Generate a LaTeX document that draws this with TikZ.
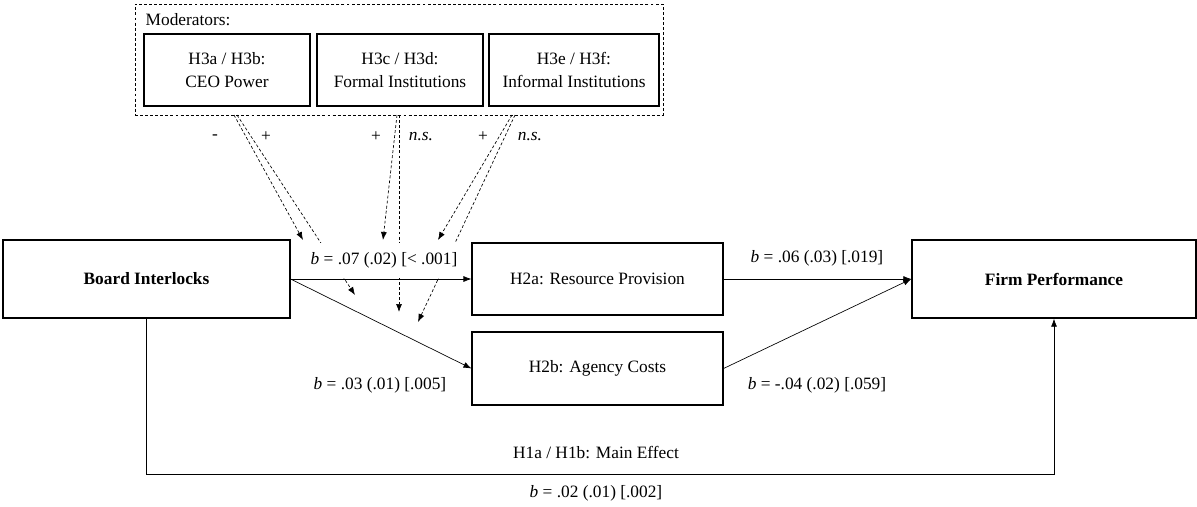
\documentclass[tikz,border=0pt]{standalone}
\usepackage{fontspec}
\setmainfont{Liberation Serif}
\usetikzlibrary{arrows.meta}

\begin{document}
\begin{tikzpicture}[x=0.75pt,y=-0.75pt]
  \tikzset{every node/.style={font=\fontsize{13}{17}\selectfont}}
  \tikzset{box/.style={draw,line width=1.1pt,align=center,inner sep=0pt}}
  \tikzset{modbox/.style={box,minimum width=124.5pt,minimum height=54pt}}
  \tikzset{link/.style={-{Latex[length=6pt,width=4.5pt]},line width=0.5pt}}
  \tikzset{modlink/.style={dash pattern=on 2.2pt off 1.6pt,line width=0.5pt}}
  \tikzset{modtip/.style={modlink,-{Latex[length=6pt,width=4.5pt]}}}
  \useasboundingbox (0,0) rectangle (1197,507);

  % moderators
  \node[draw,dash pattern=on 2.2pt off 1.6pt,line width=0.6pt,minimum width=396pt,minimum height=83.25pt] (modgroup) at (399,59.5) {};
  \node[anchor=west] (modtitle) at (141,20) {Moderators:};
  \node[modbox] (ceo) at (227,70) {H3a / H3b:\\CEO Power};
  \node[modbox] (formal) at (400,70) {H3c / H3d:\\Formal Institutions};
  \node[modbox,minimum width=127.5pt] (informal) at (574,70) {H3e / H3f:\\Informal Institutions};

  % main variables
  \node[box,minimum width=215pt,minimum height=58.5pt,font=\fontsize{13}{17}\selectfont\bfseries] (board) at (146.5,279) {Board Interlocks};
  \node[box,minimum width=188pt,minimum height=54pt] (resprov) at (597.5,279) {H2a: Resource Provision};
  \node[box,minimum width=188pt,minimum height=55pt] (agency) at (597.5,368.5) {H2b: Agency Costs};
  \node[box,minimum width=213pt,minimum height=58.5pt,font=\fontsize{13}{17}\selectfont\bfseries] (firm) at (1054,279) {Firm Performance};

  % moderating paths
  \coordinate (ceo-a) at (234,115);   \coordinate (ceo-a-end) at (303,240);
  \coordinate (ceo-b) at (237,115);   \coordinate (ceo-b-end) at (355,295);
  \coordinate (formal-a) at (397,115); \coordinate (formal-a-end) at (383,240);
  \coordinate (formal-b) at (399,115); \coordinate (formal-b-end) at (399,312);
  \coordinate (informal-a) at (512,115); \coordinate (informal-a-end) at (438,240);
  \coordinate (informal-b) at (515,115); \coordinate (informal-b-end) at (418,322);
  \draw[modtip] (ceo-b) -- (ceo-b-end);
  \draw[modtip] (formal-b) -- (formal-b-end);
  \draw[modtip] (informal-b) -- (informal-b-end);
  \node[fill=white,inner xsep=1pt,inner ysep=0pt,minimum height=26pt] (coefres) at (384,260.5) {\textit{b} = .07 (.02) [< .001]};
  \draw[modtip] (ceo-a) -- (ceo-a-end);
  \draw[modtip] (formal-a) -- (formal-a-end);
  \draw[modtip] (informal-a) -- (informal-a-end);

  \node (ceo-neg) at (215,137) {-};
  \node (ceo-pos) at (266,137) {+};
  \node (formal-pos) at (376,137) {+};
  \node (formal-ns) at (421,137) {\textit{n.s.}};
  \node (informal-pos) at (483,137) {+};
  \node (informal-ns) at (530,137) {\textit{n.s.}};

  % direct paths
  \draw[link] (board.east) -- (resprov.west);
  \draw[link] (board.east) -- (agency.west);
  \draw[link] (resprov.east) -- (firm.west);
  \draw[link] (agency.east) -- (firm.west);
  \draw[link] (board.south) -- (board.south |- 0,474) -| (firm.south);

  \node (coefagency) at (380,385) {\textit{b} = .03 (.01) [.005]};
  \node (coefperf) at (817,258) {\textit{b} = .06 (.03) [.019]};
  \node (coefcost) at (817,385) {\textit{b} = -.04 (.02) [.059]};
  \node (maineff) at (596,453) {H1a / H1b: Main Effect};
  \node (coefmain) at (596,493) {\textit{b} = .02 (.01) [.002]};
\end{tikzpicture}
\end{document}
